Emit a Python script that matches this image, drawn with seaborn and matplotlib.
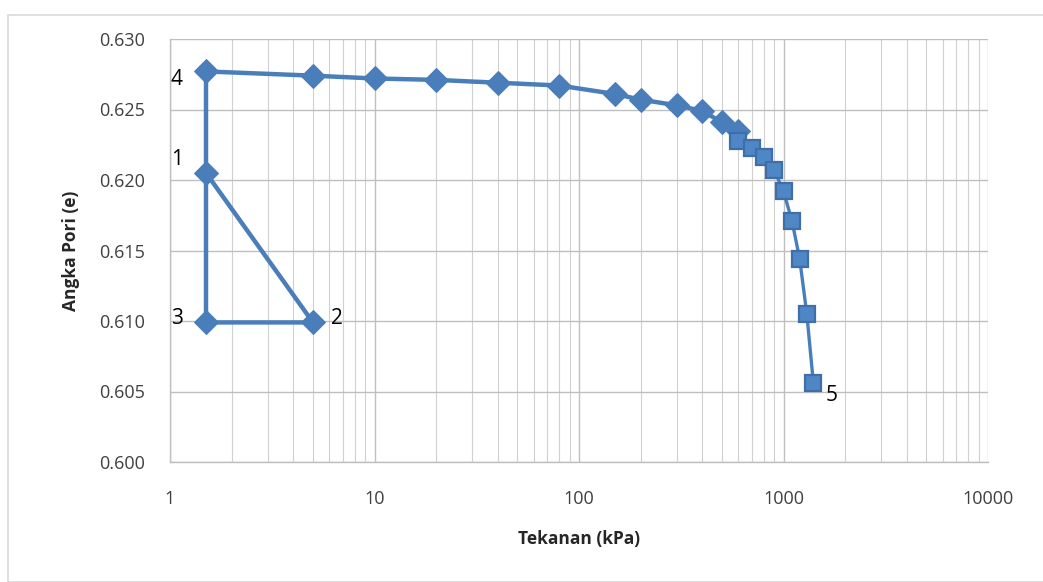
import matplotlib
matplotlib.use("Agg")
import matplotlib.pyplot as plt
import seaborn as sns
import pandas as pd
import numpy as np
from matplotlib.ticker import FixedLocator, LogLocator, FuncFormatter, NullFormatter
from matplotlib.patches import Rectangle

# Data
pressure_a = [1.5, 5, 1.5, 1.5, 5, 10, 20, 40, 80, 150, 200, 300, 400, 500, 600]
void_a = [0.6205, 0.6099, 0.6099, 0.6277, 0.6274, 0.6272, 0.6271, 0.6269, 0.6267, 0.6261, 0.6257, 0.6253, 0.6249, 0.6241, 0.6235]
pressure_b = [600, 700, 800, 900, 1000, 1100, 1200, 1300, 1400]
void_b = [0.6228, 0.6223, 0.6216, 0.6207, 0.6192, 0.6171, 0.6144, 0.6105, 0.6056]
labels = ["1", "2", "3", "4", "5"]
label_points = [(1.5, 0.6205), (5, 0.6099), (1.5, 0.6099), (1.5, 0.6277), (1400, 0.6056)]
label_offsets = [(-21, 10), (17, 3), (-21, 3), (-21, -6), (13, -9)]
yticks = [0.600, 0.605, 0.610, 0.615, 0.620, 0.625, 0.630]
xticks = [1, 10, 100, 1000, 10000]

df_a = pd.DataFrame({"p": pressure_a, "e": void_a})
df_b = pd.DataFrame({"p": pressure_b, "e": void_b})

sns.set_style("white")
plt.rcParams["font.family"] = ["Open Sans", "DejaVu Sans"]

blue = "#4A7EBB"
fig = plt.figure(figsize=(10.43, 5.82), dpi=100)
ax = fig.add_axes([170/1043, 1-462/582, (988-170)/1043, (462-39)/582])

sns.lineplot(data=df_a, x="p", y="e", sort=False, estimator=None, ax=ax, color=blue, lw=3.2,
             marker="D", markersize=12, markeredgecolor=blue, markerfacecolor=blue, zorder=3)
sns.lineplot(data=df_b, x="p", y="e", sort=False, estimator=None, ax=ax, color=blue, lw=2.4,
             marker="s", markersize=11.5, markeredgecolor="#3F6FA8", markerfacecolor="#4F86C6",
             markeredgewidth=1.6, zorder=4)

ax.set_xscale("log")
ax.set_xlim(1, 10000)
ax.set_ylim(0.600, 0.630)
ax.xaxis.set_major_locator(FixedLocator(xticks))
ax.xaxis.set_major_formatter(FuncFormatter(lambda v, p: f"{v:g}"))
ax.xaxis.set_minor_locator(LogLocator(base=10, subs=np.arange(2, 10)))
ax.xaxis.set_minor_formatter(NullFormatter())
ax.set_yticks(yticks)
ax.yaxis.set_major_formatter(FuncFormatter(lambda v, p: f"{v:.3f}"))

ax.grid(True, which="major", color="#BFBFBF", lw=1.0)
ax.grid(True, which="minor", axis="x", color="#D0D0D0", lw=0.8)
ax.set_axisbelow(True)
for s in ["top", "right"]:
    ax.spines[s].set_visible(False)
for s in ["left", "bottom"]:
    ax.spines[s].set_color("#BFBFBF")
    ax.spines[s].set_linewidth(1.0)
ax.tick_params(axis="both", length=0, labelsize=13, colors="#404040")
ax.tick_params(axis="y", pad=18)
ax.tick_params(axis="x", pad=20)

ax.set_xlabel("Tekanan (kPa)", fontsize=12.5, fontweight="bold", color="#262626", labelpad=16)
ax.set_ylabel("Angka Pori (e)", fontsize=12.5, fontweight="bold", color="#262626", labelpad=14)

for lab, (px, py), off in zip(labels, label_points, label_offsets):
    ax.annotate(lab, (px, py), xytext=off, textcoords="offset points",
                ha="center", va="center", fontsize=15, color="black")

fig.patches.append(Rectangle((8/1043, 0), 1.1, 1-15/582, transform=fig.transFigure,
                             fill=False, edgecolor="#D9D9D9", lw=1.2))

fig.savefig("out.png", dpi=100)
